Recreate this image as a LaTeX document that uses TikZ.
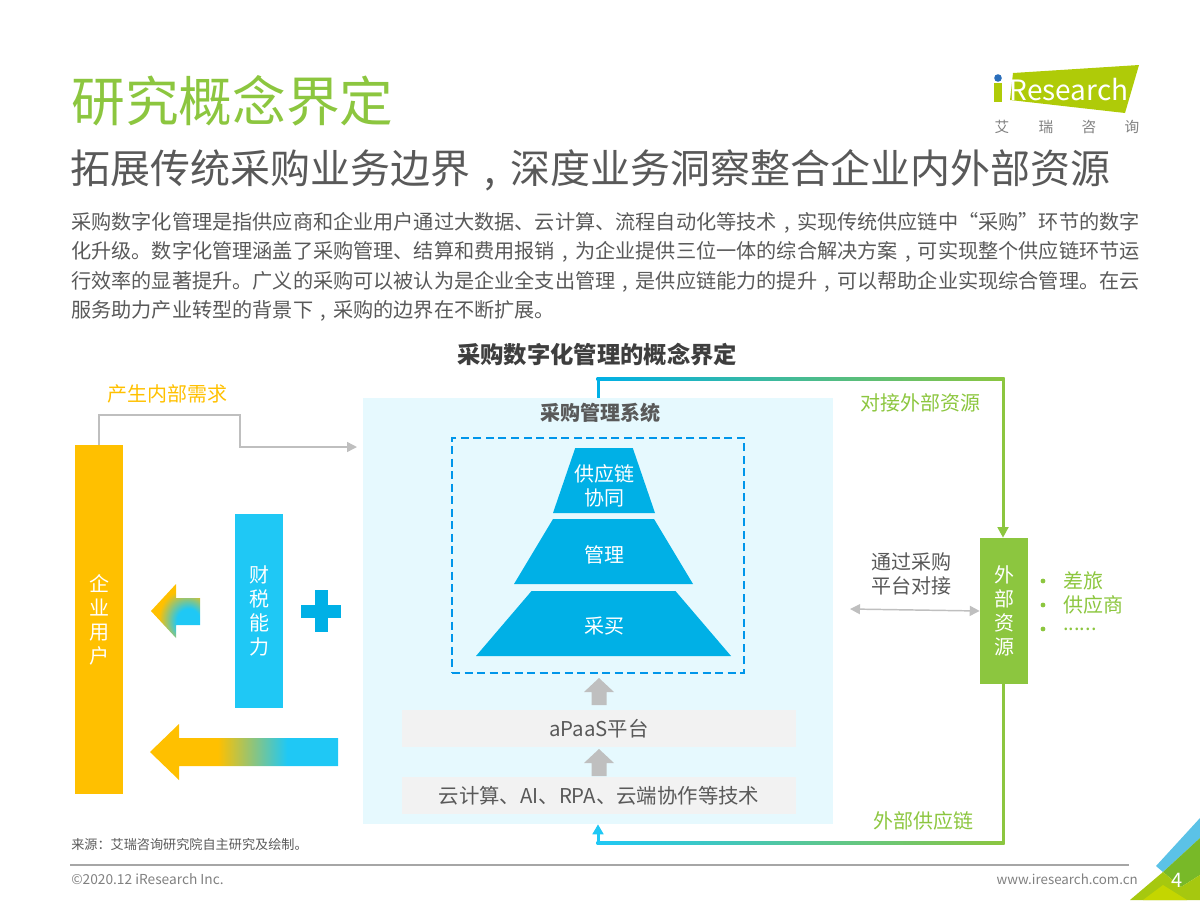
\documentclass[tikz,border=0pt]{standalone}
\usepackage{fontspec}
\setmainfont{Noto Sans CJK SC}
\usetikzlibrary{arrows.meta, shapes, calc}

\definecolor{titlegreen}{HTML}{8CC63F}
\definecolor{textgray}{HTML}{595959}
\definecolor{linegray}{HTML}{BFBFBF}
\definecolor{usergold}{HTML}{FFC000}
\definecolor{skyblue}{HTML}{1FC8F5}
\definecolor{deepblue}{HTML}{00B0E6}
\definecolor{panelblue}{HTML}{E6F9FE}
\definecolor{boxgray}{HTML}{F2F2F2}
\definecolor{limegreen}{HTML}{AFCB08}
\definecolor{dotblue}{HTML}{2A6EBB}
\definecolor{cornerblue}{HTML}{5BC2E7}
\definecolor{cornergreen}{HTML}{78B928}
\definecolor{cornerlime}{HTML}{A6C80F}
\definecolor{corneryellow}{HTML}{C4D600}

\pgfdeclarehorizontalshading{longfade}{100bp}{color(0bp)=(usergold); color(43bp)=(usergold); color(61.5bp)=(skyblue); color(100bp)=(skyblue)}
\pgfdeclareradialshading{shortfade}{\pgfpoint{15bp}{-11bp}}{color(0bp)=(skyblue); color(12bp)=(skyblue); color(28bp)=(usergold); color(100bp)=(usergold)}

\newcommand{\pxfont}[1]{\fontsize{#1}{18}\selectfont}
\newcommand{\midcomma}{\makebox[1em][c]{,}}
\newcommand{\moredots}{......}

\tikzset{
    bar/.style={rectangle,inner sep=0pt,text=white,align=center,font=\pxfont{15}},
    layer/.style={trapezium,trapezium stretches=true,trapezium angle=70.5,fill=deepblue,inner sep=0pt,minimum height=48.75pt},
    layername/.style={inner sep=0pt,text=white,align=center,font=\pxfont{15}},
    platform/.style={rectangle,fill=boxgray,inner sep=0pt,minimum width=295.5pt,minimum height=27.75pt,text=textgray,font=\pxfont{15.3}},
    note/.style={font=\pxfont{15},inner sep=0pt},
    thinline/.style={draw=linegray,line width=1.1pt},
    feed/.style={line width=2.25pt},
    dotitem/.style={circle,fill=titlegreen,inner sep=0pt,minimum size=3.6pt}
}

\begin{document}
\begin{tikzpicture}[x=0.75pt,y=-0.75pt]
\useasboundingbox (0,0) rectangle (1200,900);

% header
\node[anchor=west,inner sep=0pt,text=titlegreen,font=\pxfont{40.3}] (title) at (71,101) {研究概念界定};
\node[anchor=west,inner sep=0pt,text=textgray,font=\pxfont{30}] (subtitle) at (70,170) {拓展传统采购业务边界\midcomma 深度业务洞察整合企业内外部资源};
\node[anchor=north west,inner sep=0pt,text=textgray,font=\fontsize{15.12}{22}\selectfont,align=left] (intro) at (71,212) {%
采购数字化管理是指供应商和企业用户通过大数据、云计算、流程自动化等技术\midcomma 实现传统供应链中“采购”环节的数字\\
化升级。数字化管理涵盖了采购管理、结算和费用报销\midcomma 为企业提供三位一体的综合解决方案\midcomma 可实现整个供应链环节运\\
行效率的显著提升。广义的采购可以被认为是企业全支出管理\midcomma 是供应链能力的提升\midcomma 可以帮助企业实现综合管理。在云\\
服务助力产业转型的背景下\midcomma 采购的边界在不断扩展。};

% logo
\fill[limegreen] (1013,73) -- (1139,65) -- (1125,113) -- (1010,100) -- cycle;
\fill[limegreen] (994,83) rectangle (1002,102);
\fill[dotblue] (998,78) circle (3.8);
\node[inner sep=0pt,text=white,font=\pxfont{21}] (brand) at (1069,90) {Research};
\foreach \ch/\cx in {艾/1002,瑞/1046,咨/1089,询/1132}
    \node[inner sep=0pt,text=gray,font=\pxfont{11}] (logo\cx) at (\cx,127) {\ch};

\node[inner sep=0pt,text=textgray!70!black,font=\bfseries\pxfont{17.5}] (heading) at (597,355) {采购数字化管理的概念界定};

% system panel
\node[rectangle,fill=panelblue,inner sep=0pt,minimum width=352.5pt,minimum height=319.5pt] (system) at (598,611) {};
\node[inner sep=0pt,text=textgray,font=\bfseries\pxfont{15}] (systemname) at (600,413) {采购管理系统};
\node[rectangle,draw=deepblue!85!blue,line width=1.5pt,dash pattern=on 6pt off 3.4pt,inner sep=0pt,minimum width=219pt,minimum height=176.25pt] (core) at (598,555.5) {};

\node[layer,minimum width=76.5pt] (coop) at (604,480.5) {\phantom{x}};
\node[layer,minimum width=134.25pt] (manage) at (603.5,551.5) {\phantom{x}};
\node[layer,minimum width=191.25pt] (buy) at (603.5,623.5) {\phantom{x}};
\node[layername] (coopname) at (604,486) {供应链\\协同};
\node[layername] (managename) at (604,555) {管理};
\node[layername] (buyname) at (604,626.5) {采买};

\node[platform] (apaas) at (599,728.5) {aPaaS平台};
\node[platform] (tech) at (599,795.5) {云计算、AI、RPA、云端协作等技术};
\foreach \tipy in {678,749}
    \fill[linegray] (599,\tipy) -- ++(15,14) -- ++(-7.5,0) -- ++(0,13) -- ++(-15,0) -- ++(0,-13) -- ++(-7.5,0) -- cycle;

% user side
\node[bar,fill=usergold,minimum width=36pt,minimum height=261.75pt] (user) at (99,619.5) {企\\业\\用\\户};
\node[bar,fill=skyblue,minimum width=36pt,minimum height=145.5pt] (tax) at (259,611) {财\\税\\能\\力};
\fill[deepblue] (315,590) rectangle (328,632);
\fill[deepblue] (301,605) rectangle (341,618);
\shade[shading=shortfade] (151,611) -- (176,584) -- (176,598) -- (200,598) -- (200,625) -- (176,625) -- (176,638) -- cycle;
\shade[shading=longfade] (150,752) -- (179,724) -- (179,738) -- (338,738) -- (338,766) -- (179,766) -- (179,780) -- cycle;

\node[note,text=usergold] (needlabel) at (167,394) {产生内部需求};
\coordinate (needstart) at (99,445);
\coordinate (needend) at (357,447);
\draw[thinline,-{Triangle[length=7.5pt,width=7.5pt]}] (needstart) -- (99,415) -- (240,415) -- (240,447) -- (needend);

% external side
\node[bar,fill=titlegreen,minimum width=36pt,minimum height=109.5pt] (outer) at (1004,611) {外\\部\\资\\源};
\node[note,text=titlegreen] (outerlabel) at (920,403) {对接外部资源};
\node[note,text=titlegreen] (chainlabel) at (923,821) {外部供应链};
\node[note,text=textgray,align=center] (dock) at (911,574) {通过采购\\平台对接};
\coordinate (dockend) at (850,609);
\draw[thinline,{Triangle[length=7.5pt,width=7.5pt]}-{Triangle[length=7.5pt,width=7.5pt]}] (dockend) -- (outer.west);

\foreach \name/\yy/\word in {trip/581/差旅,supplier/605/供应商,more/629/\moredots}{
    \node[dotitem] (dot\name) at (1043,\yy) {};
    \node[note,text=titlegreen,anchor=west] (item\name) at (1063,\yy) {\word};
}

% links to the external side
\coordinate (topleft) at (598,379);
\coordinate (topright) at (1003,379);
\coordinate (botright) at (1003,843);
\coordinate (botleft) at (598,843);
\draw[feed,draw=deepblue] (topleft |- system.north) -- (topleft);
\shade[left color=deepblue,middle color=deepblue!55!titlegreen,right color=titlegreen] ($(topleft)+(-1.5,-1.5)$) rectangle ($(topright)+(1.5,1.5)$);
\draw[feed,draw=titlegreen,-{Triangle[length=8pt,width=8pt]}] (topright) -- (topright |- outer.north);
\draw[feed,draw=titlegreen] (botright |- outer.south) -- (botright);
\shade[left color=skyblue,middle color=deepblue!55!titlegreen,right color=titlegreen] ($(botleft)+(-1.5,-1.5)$) rectangle ($(botright)+(1.5,1.5)$);
\draw[feed,draw=skyblue,-{Triangle[length=7.5pt,width=8pt]}] (botleft) -- (botleft |- system.south);

% footer
\node[anchor=west,inner sep=0pt,text=textgray,font=\pxfont{9.85}] (source) at (71,845) {来源：艾瑞咨询研究院自主研究及绘制。};
\coordinate (rulestart) at (70,865);
\coordinate (ruleend) at (1129,865);
\draw[line width=1.1pt,draw=black!35] (rulestart) -- (ruleend);
\node[anchor=west,inner sep=0pt,text=gray,font=\pxfont{10.3}] (copyright) at (71,879) {©2020.12 iResearch Inc.};
\node[anchor=east,inner sep=0pt,text=gray,font=\pxfont{10}] (website) at (1138,879) {www.iresearch.com.cn};
\fill[cornerblue] (1156,866) -- (1200,818) -- (1200,838) -- (1163,872) -- cycle;
\fill[cornergreen] (1163,872) -- (1200,838) -- (1200,875) -- (1181,887) -- cycle;
\fill[cornerlime] (1130,900) -- (1163,872) -- (1181,887) -- (1200,875) -- (1200,900) -- cycle;
\fill[corneryellow] (1143,900) -- (1163,885) -- (1187,900) -- cycle;
\node[inner sep=0pt,text=white,font=\pxfont{15}] (pagenum) at (1177,880) {4};
\end{tikzpicture}
\end{document}
